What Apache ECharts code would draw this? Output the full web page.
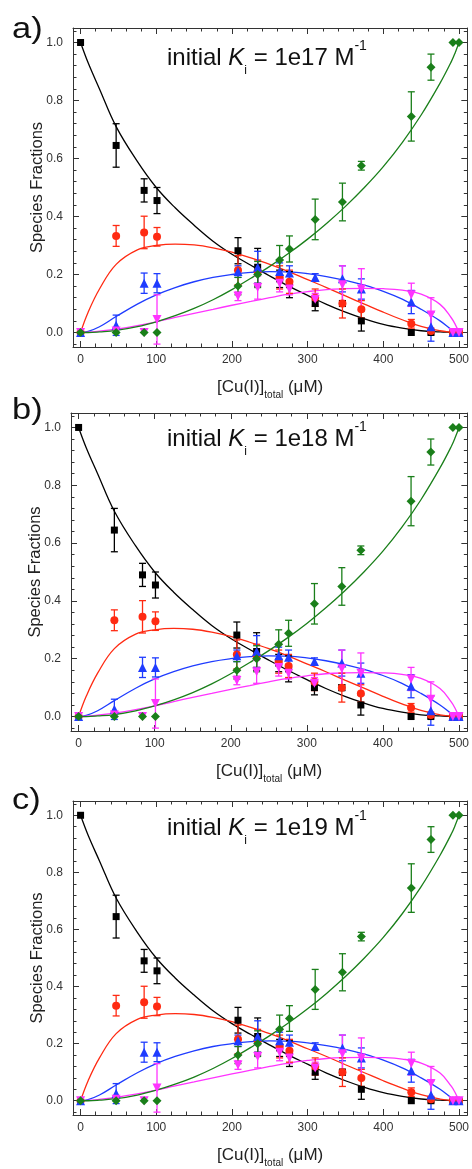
<!DOCTYPE html>
<html>
<head>
<meta charset="utf-8">
<script src="https://cdn.jsdelivr.net/npm/echarts@6/dist/echarts.min.js"></script>
<style>
  html, body { margin: 0; padding: 0; background: #fff; }
  #chart { width: 472px; height: 1169px; }
</style>
</head>
<body>
<div id="chart"></div>
<script>
// measured points, [Cu(I)]total in uM
const cuTotal = [0, 47, 84, 101, 208, 234, 263, 276, 310, 346, 371, 437, 463, 492, 500]

const blackVals = [1.0, 0.645, 0.49, 0.455, 0.282, 0.225, 0.185, 0.165, 0.10, 0.10, 0.04, 0.0, 0.0, 0.0, 0.0]
const blackErr = [0, 0.075, 0.04, 0.045, 0.045, 0.065, 0.03, 0.045, 0.025, 0.01, 0.035, 0, 0, 0, 0]
const redVals = [0, 0.333, 0.345, 0.33, 0.215, 0.21, 0.19, 0.175, 0.12, 0.10, 0.08, 0.03, 0.005, 0, 0]
const redErr = [0, 0.036, 0.056, 0.032, 0.05, 0.04, 0.04, 0.04, 0.03, 0.05, 0.03, 0.015, 0.01, 0, 0]
const blueVals = [0, 0.025, 0.17, 0.17, 0.21, 0.225, 0.21, 0.205, 0.19, 0.185, 0.15, 0.105, 0.02, 0, 0]
const blueErr = [0, 0.035, 0.035, 0.033, 0.02, 0.055, 0.03, 0.025, 0.013, 0.045, 0.035, 0.04, 0.05, 0, 0]
const pinkVals = [0, 0.005, 0, 0.045, 0.125, 0.155, 0.17, 0.15, 0.115, 0.165, 0.15, 0.13, 0.06, 0, 0]
const pinkErr = [0, 0, 0, 0.085, 0.015, 0.04, 0.03, 0.02, 0.02, 0.065, 0.07, 0.04, 0.06, 0, 0]
const greenVals = [0, 0, 0, 0, 0.16, 0.2, 0.25, 0.288, 0.39, 0.45, 0.575, 0.745, 0.915, 1.0, 1.0]
const greenErr = [0, 0, 0, 0, 0.03, 0.045, 0.05, 0.045, 0.07, 0.065, 0.015, 0.085, 0.045, 0, 0]

// fitted curves
const fitX = [0, 10, 25, 47, 75, 100, 125, 150, 175, 200, 225, 250, 275, 300, 325, 350, 375, 400, 425, 450, 475, 490, 495, 500]
const blackFit = [1.0, 0.93, 0.84, 0.71, 0.59, 0.5, 0.43, 0.37, 0.315, 0.27, 0.232, 0.195, 0.16, 0.128, 0.097, 0.07, 0.047, 0.028, 0.015, 0.006, 0.002, 0.0005, 0, 0]
const redFit = [0, 0.07, 0.15, 0.235, 0.285, 0.3, 0.305, 0.302, 0.292, 0.277, 0.257, 0.235, 0.21, 0.182, 0.155, 0.126, 0.098, 0.07, 0.044, 0.021, 0.006, 0.001, 0, 0]
const blueFit = [0, 0.004, 0.02, 0.055, 0.098, 0.13, 0.155, 0.175, 0.19, 0.2, 0.207, 0.21, 0.209, 0.203, 0.193, 0.18, 0.163, 0.142, 0.115, 0.08, 0.04, 0.01, 0.003, 0]
const pinkFit = [0, 0.001, 0.005, 0.012, 0.024, 0.037, 0.052, 0.066, 0.08, 0.094, 0.107, 0.12, 0.132, 0.141, 0.148, 0.151, 0.152, 0.151, 0.146, 0.132, 0.097, 0.05, 0.028, 0]
const greenFit = [0, 0, 0.002, 0.007, 0.02, 0.037, 0.058, 0.083, 0.113, 0.148, 0.187, 0.228, 0.273, 0.322, 0.376, 0.435, 0.5, 0.572, 0.655, 0.75, 0.86, 0.935, 0.965, 1.0]

const panelLetters = ['a)', 'b)', 'c)']
const kExponents = ['1e17', '1e18', '1e19']

const FONT = '"Liberation Sans", Arial, sans-serif'
const panelBoxes = [
  { left: 73, top: 28, width: 397, height: 319, letterY: 15, titleY: 39 },
  { left: 71, top: 413, width: 398, height: 318, letterY: 396, titleY: 420 },
  { left: 73, top: 801, width: 397, height: 317, letterY: 786, titleY: 809 }
]

const species = [
  { name: 'black', color: '#000000', vals: blackVals, err: blackErr, fit: blackFit, symbol: 'rect', size: 7, rotate: 0 },
  { name: 'red', color: '#ff2a12', vals: redVals, err: redErr, fit: redFit, symbol: 'circle', size: 8, rotate: 0 },
  { name: 'blue', color: '#1f3cff', vals: blueVals, err: blueErr, fit: blueFit, symbol: 'triangle', size: 9, rotate: 0 },
  { name: 'magenta', color: '#ff33ff', vals: pinkVals, err: pinkErr, fit: pinkFit, symbol: 'triangle', size: 9, rotate: 180 },
  { name: 'green', color: '#1a7f1a', vals: greenVals, err: greenErr, fit: greenFit, symbol: 'diamond', size: 9, rotate: 0 }
]

function errorBarItem( color ) {
  return function( params, api ) {
    const x = api.value( 0 )
    const y = api.value( 1 )
    const e = api.value( 2 )
    if ( !e ) {
      return
    }
    const top = api.coord( [x, y + e] )
    const bot = api.coord( [x, y - e] )
    const half = 3.5
    const style = { stroke: color, lineWidth: 1.3 }
    return {
      type: 'group',
      children: [
        { type: 'line', shape: { x1: top[0], y1: top[1], x2: bot[0], y2: bot[1] }, style: style },
        { type: 'line', shape: { x1: top[0] - half, y1: top[1], x2: top[0] + half, y2: top[1] }, style: style },
        { type: 'line', shape: { x1: bot[0] - half, y1: bot[1], x2: bot[0] + half, y2: bot[1] }, style: style }
      ]
    }
  }
}

const axisColor = '#333'
function frameAxis( extra ) {
  return Object.assign( {
    type: 'value',
    axisLine: { show: true, onZero: false, lineStyle: { color: axisColor, width: 1 } },
    axisTick: { show: true, inside: true, length: 6, lineStyle: { color: axisColor, width: 1 } },
    minorTick: { show: true, splitNumber: 5, length: 3.5, lineStyle: { color: axisColor, width: 1 } },
    splitLine: { show: false },
    axisLabel: { show: false }
  }, extra )
}

const grid = []
const xAxis = []
const yAxis = []
const series = []
const graphic = []

panelBoxes.forEach( ( box, p ) => {
  grid.push( { left: box.left, top: box.top, width: box.width, height: box.height } )

  xAxis.push( frameAxis( {
    gridIndex: p, position: 'bottom', min: -10, max: 511, splitNumber: 5,
    axisLabel: { show: true, margin: 7, color: '#333', fontSize: 12, fontFamily: FONT, showMinLabel: false, showMaxLabel: false },
    name: '{n|[Cu(I)]}{sub|total}{n| (μM)}',
    nameLocation: 'middle',
    nameGap: 27,
    nameMoveOverlap: false,
    nameTextStyle: {
      color: '#222',
      rich: {
        n: { fontSize: 17, fontFamily: FONT, lineHeight: 26, color: '#222' },
        sub: { fontSize: 10, fontFamily: FONT, lineHeight: 12, verticalAlign: 'bottom', color: '#222' }
      }
    }
  } ) )
  xAxis.push( frameAxis( { gridIndex: p, position: 'top', min: -10, max: 511, splitNumber: 5 } ) )

  yAxis.push( frameAxis( {
    gridIndex: p, position: 'left', min: -0.05, max: 1.05, splitNumber: 5,
    axisLabel: {
      show: true, margin: 10, color: '#333', fontSize: 12, fontFamily: FONT,
      showMinLabel: false, showMaxLabel: false,
      formatter: v => v.toFixed( 1 )
    },
    name: 'Species Fractions',
    nameLocation: 'middle',
    nameGap: 27,
    nameMoveOverlap: false,
    nameTextStyle: { color: '#222', fontSize: 16.5, fontFamily: FONT }
  } ) )
  yAxis.push( frameAxis( { gridIndex: p, position: 'right', min: -0.05, max: 1.05, splitNumber: 5 } ) )

  species.forEach( sp => {
    series.push( {
      name: sp.name + ' fit',
      type: 'line',
      xAxisIndex: 2 * p,
      yAxisIndex: 2 * p,
      data: fitX.map( ( x, i ) => [x, sp.fit[i]] ),
      showSymbol: false,
      smooth: 0.4,
      lineStyle: { color: sp.color, width: 1.3 },
      z: 2
    } )
  } )
  species.forEach( sp => {
    series.push( {
      name: sp.name + ' err',
      type: 'custom',
      xAxisIndex: 2 * p,
      yAxisIndex: 2 * p,
      data: cuTotal.map( ( x, i ) => [x, sp.vals[i], sp.err[i]] ),
      encode: { x: 0, y: 1 },
      renderItem: errorBarItem( sp.color ),
      z: 3
    } )
    series.push( {
      name: sp.name,
      type: 'scatter',
      xAxisIndex: 2 * p,
      yAxisIndex: 2 * p,
      data: cuTotal.map( ( x, i ) => [x, sp.vals[i]] ),
      symbol: sp.symbol,
      symbolSize: sp.size,
      symbolRotate: sp.rotate,
      itemStyle: { color: sp.color, opacity: 1 },
      z: 4
    } )
  } )

  // panel letter, a bit wider like the original
  graphic.push( {
    type: 'text', x: 12, y: box.letterY, scaleX: 1.15,
    style: { text: panelLetters[p], font: '30px ' + FONT, fill: '#111', verticalAlign: 'top' }
  } )
  graphic.push( {
    type: 'text', left: 167, top: box.titleY,
    style: {
      text: '{n|initial }{k|K}{s|i}{n| = ' + kExponents[p] + ' M}{e|-1}',
      rich: {
        n: { fontSize: 24, fontFamily: FONT, lineHeight: 38, fill: '#111' },
        k: { fontSize: 24, fontFamily: FONT, fontStyle: 'italic', lineHeight: 38, fill: '#111' },
        s: { fontSize: 12, fontFamily: FONT, lineHeight: 14, verticalAlign: 'bottom', fill: '#111' },
        e: { fontSize: 14, fontFamily: FONT, lineHeight: 33, verticalAlign: 'top', fill: '#111' }
      }
    }
  } )
} )

const chart = echarts.init( document.getElementById( 'chart' ) )
chart.setOption( {
  animation: false,
  backgroundColor: '#ffffff',
  grid: grid,
  xAxis: xAxis,
  yAxis: yAxis,
  series: series,
  graphic: graphic
} )
</script>
</body>
</html>
